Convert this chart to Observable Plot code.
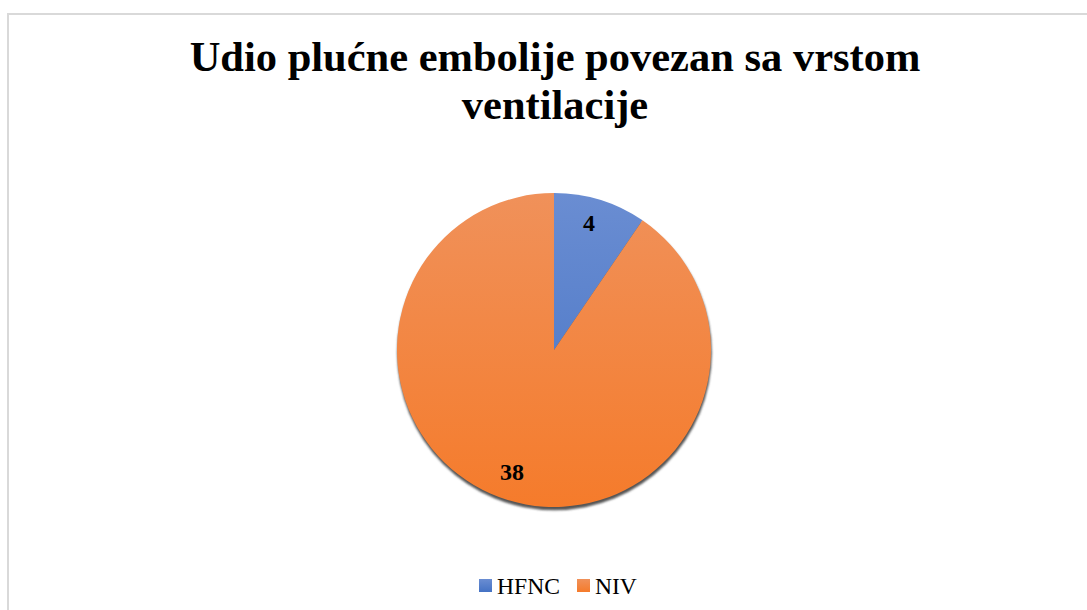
<!DOCTYPE html>
<html><head><meta charset="utf-8">
<script src="https://cdn.jsdelivr.net/npm/d3@7"></script>
<script src="https://cdn.jsdelivr.net/npm/@observablehq/plot@0.6"></script>
<style>
html,body{margin:0;padding:0;background:#fff;width:1087px;height:610px;overflow:hidden;position:relative;font-family:"Liberation Serif","Times New Roman",serif;}
#frame{position:absolute;left:7px;top:13px;width:1100px;height:620px;border:2px solid #d9d9d9;box-sizing:border-box;}
#title{position:absolute;left:8px;top:33px;width:1094px;text-align:center;font-weight:bold;font-size:42.5px;line-height:48px;color:#000;}
#chart{position:absolute;left:0;top:150px;}
#legend{position:absolute;left:479px;top:571px;white-space:nowrap;font-size:23.6px;line-height:26px;color:#000;}
.item{display:inline-flex;align-items:center;margin-right:17px;}
.sw{display:inline-block;width:13px;height:13px;margin-right:5px;}
</style></head>
<body>
<div id="frame"></div>
<div id="title">Udio plućne embolije povezan sa vrstom<br>ventilacije</div>
<div id="chart"></div>
<div id="legend"></div>
<script>
const categories = ["HFNC", "NIV"];
const values = [4, 38];
const colorsTop = ["#6a8dd2", "#f0915a"];
const colorsBottom = ["#4472c4", "#f57b2b"];

const pie = d3.pie().sort(null).value(d => d.value);
const data = categories.map((c, i) => ({category: c, value: values[i], i}));
const arcs = pie(data);
const labelR = 0.83;
const labels = arcs.map(a => {
  const m = (a.startAngle + a.endAngle) / 2;
  return {text: String(a.data.value), x: labelR * Math.sin(m), y: labelR * Math.cos(m)};
});

function pieMark(index, scales) {
  const {x, y} = scales;
  const cx = x(0), cy = y(0), r = x(1) - x(0);
  const g = d3.create("svg:g");
  const defs = g.append("defs");
  arcs.forEach((a, i) => {
    const lg = defs.append("linearGradient").attr("id", "grad" + i)
      .attr("gradientUnits", "userSpaceOnUse")
      .attr("x1", 0).attr("y1", -r).attr("x2", 0).attr("y2", r);
    lg.append("stop").attr("offset", "0%").attr("stop-color", colorsTop[i]);
    lg.append("stop").attr("offset", "100%").attr("stop-color", colorsBottom[i]);
  });
  const f = defs.append("filter").attr("id", "blur").attr("x", "-10%").attr("y", "-10%").attr("width", "120%").attr("height", "120%");
  f.append("feGaussianBlur").attr("stdDeviation", 0.8);
  g.append("circle").attr("cx", cx + 0.5).attr("cy", cy + 3).attr("r", r + 0.3)
    .attr("fill", "#555").attr("filter", "url(#blur)");
  const arcGen = d3.arc().innerRadius(0).outerRadius(r);
  g.selectAll("path.slice").data(arcs).join("path")
    .attr("transform", `translate(${cx},${cy})`)
    .attr("d", arcGen)
    .attr("fill", (d, i) => `url(#grad${i})`);
  return g.node();
}

const plot = Plot.plot({
  width: 1087,
  height: 400,
  marginLeft: 397,
  marginRight: 376,
  marginTop: 43,
  marginBottom: 43,
  x: {domain: [-1, 1], axis: null},
  y: {domain: [-1, 1], axis: null},
  style: {background: "transparent", overflow: "visible"},
  marks: [
    pieMark,
    Plot.text(labels, {x: "x", y: "y", text: "text", fontSize: 24, fontWeight: "bold", dx: -4, dy: -3,
      fontFamily: "Liberation Serif, Times New Roman, serif", fill: "#000"})
  ]
});
document.getElementById("chart").appendChild(plot);

const legend = document.getElementById("legend");
categories.forEach((c, i) => {
  const it = document.createElement("span");
  it.className = "item";
  it.innerHTML = `<span class="sw" style="background:linear-gradient(${colorsTop[i]},${colorsBottom[i]})"></span>${c}`;
  legend.appendChild(it);
});
</script>
</body></html>
